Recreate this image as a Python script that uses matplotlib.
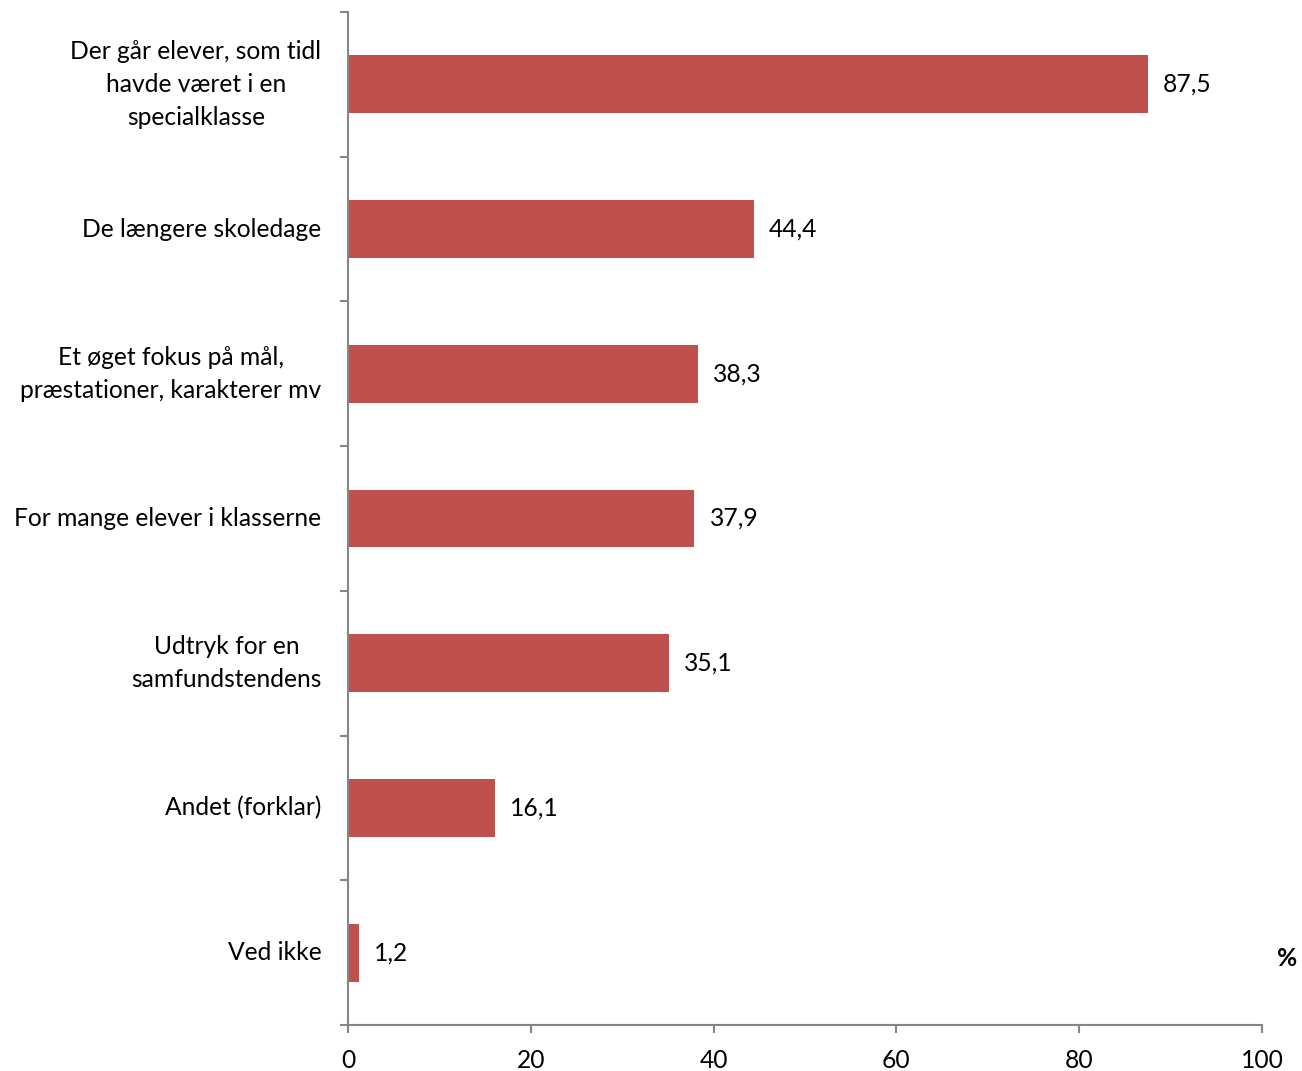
import matplotlib
matplotlib.use("Agg")
import matplotlib.pyplot as plt
from matplotlib.ticker import FixedLocator

categories = [
    "Der går elever, som tidl\nhavde været i en\nspecialklasse",
    "De længere skoledage",
    "Et øget fokus på mål,\npræstationer, karakterer mv",
    "For mange elever i klasserne",
    "Udtryk for en\nsamfundstendens",
    "Andet (forklar)",
    "Ved ikke",
]
values = [87.5, 44.4, 38.3, 37.9, 35.1, 16.1, 1.2]
value_labels = ["87,5", "44,4", "38,3", "37,9", "35,1", "16,1", "1,2"]
xticks = [0, 20, 40, 60, 80, 100]

FS = 17.7
plt.rcParams['font.family'] = ['Lato', 'DejaVu Sans']
fig = plt.figure(figsize=(13.02, 10.71), dpi=100)
ax = fig.add_axes([348/1302, 1-1025/1071, (1262-348)/1302, (1025-12)/1071])

pos = list(range(len(categories)))
ax.barh(pos, values, height=0.4, color="#C0504D")
ax.set_ylim(len(categories)-0.5, -0.5)
ax.set_xlim(0, 100)

for p, v, lab in zip(pos, values, value_labels):
    ax.annotate(lab, (v, p), xytext=(11, 0), textcoords="offset points",
                ha="left", va="center", fontsize=FS, color="black")

ax.set_yticks(pos)
ax.set_yticklabels(categories, fontsize=FS, multialignment="center",
                   linespacing=1.52, va="center")
ax.tick_params(axis="y", which="major", length=0, pad=19)
ax.yaxis.set_minor_locator(FixedLocator([i - 0.5 for i in range(len(categories)+1)]))
ax.tick_params(axis="y", which="minor", length=6, width=1.5, color="#868686", direction="out")

ax.set_xticks(xticks)
ax.set_xticklabels([str(t) for t in xticks], fontsize=FS)
ax.tick_params(axis="x", length=6, width=1.5, color="#868686", pad=11)

for s in ["top", "right"]:
    ax.spines[s].set_visible(False)
for s in ["left", "bottom"]:
    ax.spines[s].set_color("#868686")
    ax.spines[s].set_linewidth(1.5)

ax.text(1.027, 0.066, "%", transform=ax.transAxes, fontsize=FS, fontweight="bold",
        ha="center", va="center")

fig.savefig("out.png", dpi=100)
